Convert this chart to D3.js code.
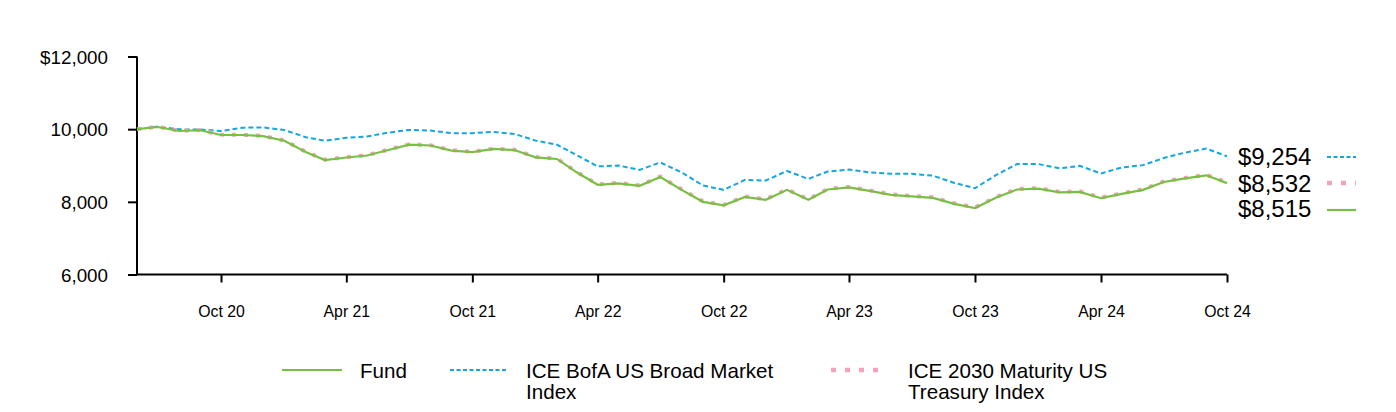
<!DOCTYPE html>
<html><head><meta charset="utf-8">
<script src="https://cdn.jsdelivr.net/npm/d3@7"></script>
<style>html,body{margin:0;padding:0;background:#fff;}svg{display:block;font-family:Arial,"Liberation Sans",sans-serif;}</style>
</head><body><svg id="c" width="1396" height="412"></svg>
<script>
const months = ["2020-06","2020-07","2020-08","2020-09","2020-10","2020-11","2020-12",
"2021-01","2021-02","2021-03","2021-04","2021-05","2021-06","2021-07","2021-08","2021-09","2021-10","2021-11","2021-12",
"2022-01","2022-02","2022-03","2022-04","2022-05","2022-06","2022-07","2022-08","2022-09","2022-10","2022-11","2022-12",
"2023-01","2023-02","2023-03","2023-04","2023-05","2023-06","2023-07","2023-08","2023-09","2023-10","2023-11","2023-12",
"2024-01","2024-02","2024-03","2024-04","2024-05","2024-06","2024-07","2024-08","2024-09","2024-10"];
const fund = [10000,10060,9950,9970,9840,9840,9810,9680,9370,9150,9220,9275,9425,9575,9550,9410,9370,9455,9425,9225,9180,8820,8470,8510,8440,8685,8330,8000,7905,8135,8055,8330,8055,8340,8395,8300,8190,8150,8110,7945,7830,8120,8340,8365,8260,8275,8100,8220,8330,8545,8645,8730,8515];
const broad = [10000,10070,9995,9990,9950,10040,10050,9975,9780,9680,9765,9800,9905,9980,9960,9890,9890,9925,9870,9685,9570,9290,8975,9000,8880,9085,8810,8450,8330,8605,8585,8850,8630,8835,8890,8810,8775,8770,8720,8520,8375,8740,9040,9040,8920,8990,8780,8945,9010,9205,9355,9465,9254];
const treasury = [10000,10065,9960,9975,9850,9845,9815,9690,9380,9160,9230,9285,9435,9585,9560,9420,9380,9465,9435,9235,9190,8830,8480,8520,8450,8695,8345,8015,7915,8150,8070,8345,8070,8355,8410,8315,8205,8165,8125,7960,7845,8135,8355,8380,8275,8290,8115,8235,8345,8560,8660,8745,8532];
const xTickLabels = ["Oct 20","Apr 21","Oct 21","Apr 22","Oct 22","Apr 23","Oct 23","Apr 24","Oct 24"];
const xTickMonths = ["2020-10","2021-04","2021-10","2022-04","2022-10","2023-04","2023-10","2024-04","2024-10"];
const yTicks = [6000,8000,10000,12000];
const endLabels = ["$9,254","$8,532","$8,515"];
const legendNames = [["Fund"],["ICE BofA US Broad Market","Index"],["ICE 2030 Maturity US","Treasury Index"]];

const colors = {fund:"#78c043", broad:"#13a6df", treasury:"#f4a3b8"};
const parse = d3.timeParse("%Y-%m");
const dates = months.map(parse);

const svg = d3.select("#c");
const x = d3.scaleTime().domain([dates[0], dates[dates.length-1]]).range([137, 1227]);
const y = d3.scaleLinear().domain([6000, 12000]).range([274.5, 56.5]);

const line = vals => d3.line().x((d,i)=>x(dates[i])).y(d=>y(d))(vals);

// y axis
const yAxis = svg.append("g").attr("transform","translate(137,0)")
  .call(d3.axisLeft(y).tickValues(yTicks).tickSize(9).tickPadding(20)
    .tickFormat((d,i)=> (d===12000? "$":"") + d3.format(",")(d)));
yAxis.select(".domain").attr("stroke","#000").attr("stroke-width",2).attr("d","M0,56.5V274.5");
yAxis.selectAll(".tick line").attr("stroke","#000").attr("stroke-width",2);
yAxis.selectAll(".tick text").attr("font-size",18.8).attr("fill","#000").attr("font-family","Arial, 'Liberation Sans', sans-serif").attr("dy","0.36em");

// x axis
const xAxis = svg.append("g").attr("transform","translate(0,274.5)")
  .call(d3.axisBottom(x).tickValues(xTickMonths.map(parse)).tickSize(8).tickPadding(23)
    .tickFormat((d,i)=>xTickLabels[i]));
xAxis.select(".domain").attr("stroke","#000").attr("stroke-width",2).attr("d","M137,0H1227");
xAxis.selectAll(".tick line").attr("stroke","#000").attr("stroke-width",2);
xAxis.selectAll(".tick text").attr("font-size",15.8).attr("fill","#000").attr("font-family","Arial, 'Liberation Sans', sans-serif");

// lines
svg.append("path").attr("d",line(broad)).attr("fill","none").attr("stroke",colors.broad).attr("stroke-width",2).attr("stroke-dasharray","5,3");
svg.append("path").attr("d",line(treasury)).attr("fill","none").attr("stroke",colors.treasury).attr("stroke-width",4).attr("stroke-dasharray","4,8");
svg.append("path").attr("d",line(fund)).attr("fill","none").attr("stroke",colors.fund).attr("stroke-width",2.2);

// end labels
const ends = [
  {label:endLabels[0], base:165, ly:157, color:colors.broad, w:2, dash:"4,2.5"},
  {label:endLabels[1], base:192, ly:183, color:colors.treasury, w:4.5, dash:"5,9"},
  {label:endLabels[2], base:217, ly:210, color:colors.fund, w:2.2, dash:null}
];
ends.forEach(e=>{
  svg.append("text").attr("x",1238).attr("y",e.base).attr("font-size",24).attr("fill","#000").text(e.label);
  const l = svg.append("line").attr("x1",1327).attr("x2",1356).attr("y1",e.ly).attr("y2",e.ly)
    .attr("stroke",e.color).attr("stroke-width",e.w);
  if(e.dash) l.attr("stroke-dasharray",e.dash);
});

// legend
const leg = [
  {sx1:282, sx2:342, tx:360, color:colors.fund, w:2.2, dash:null, names:legendNames[0]},
  {sx1:450, sx2:508, tx:526, color:colors.broad, w:2, dash:"4,2.5", names:legendNames[1]},
  {sx1:831, sx2:884, tx:908, color:colors.treasury, w:4.5, dash:"5,9", names:legendNames[2]}
];
leg.forEach(g=>{
  const l = svg.append("line").attr("x1",g.sx1).attr("x2",g.sx2).attr("y1",370).attr("y2",370)
    .attr("stroke",g.color).attr("stroke-width",g.w);
  if(g.dash) l.attr("stroke-dasharray",g.dash);
  g.names.forEach((n,i)=>svg.append("text").attr("x",g.tx).attr("y",377.5 + i*21)
    .attr("font-size",20.6).attr("fill","#000").text(n));
});
</script></body></html>
